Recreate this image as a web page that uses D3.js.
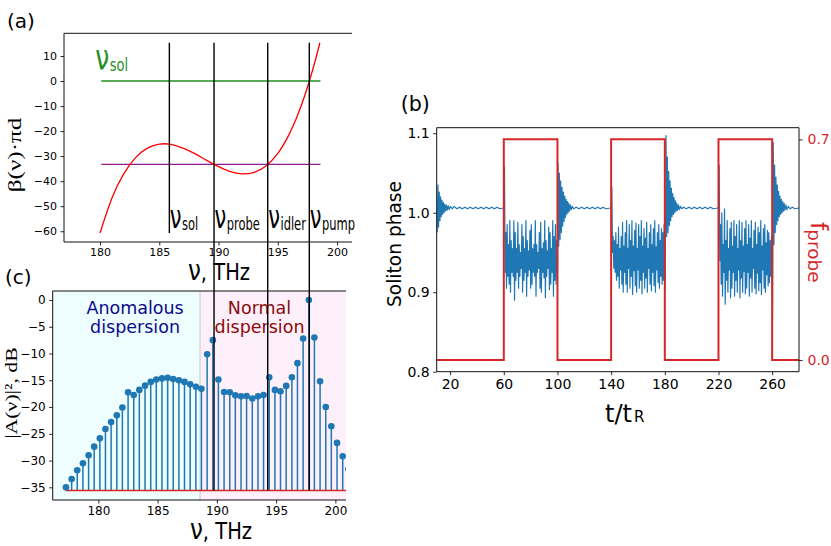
<!DOCTYPE html>
<html><head><meta charset="utf-8">
<script src="https://cdn.jsdelivr.net/npm/d3@7"></script>
<style>body{margin:0;background:#fff}svg{display:block}</style>
</head><body>
<svg id="fig" width="831" height="546"></svg>
<script>
// ---------------- DATA ----------------
// Panel (a): dispersion curve beta(nu)*pi*d
const nuA   = [180, 181, 182, 183, 184, 185, 186, 187, 188, 189, 190, 191, 192, 193, 194, 195, 196, 197, 198, 198.55];
const betaA = [-60.7, -46.8, -37.1, -30.6, -26.8, -25.2, -25.3, -26.8, -29.0, -31.7, -34.2, -36.2, -37.1, -36.5, -33.9, -28.9, -20.9, -9.6, 5.4, 15.3];
const solLevel = 0;          // green line
const phaseMatchLevel = -33.3; // purple line
const levelRange = [180.1, 198.6];
const betaTicks = [-60, -50, -40, -30, -20, -10, 0, 10];
const nuTicks = [180, 185, 190, 195, 200];
// vertical marker lines (THz)
const markNames = ["sol", "probe", "idler", "pump"];
const markNu = [185.85, 189.62, 194.15, 197.66];

// Panel (c): comb spectrum |A(nu)|^2, dB
const stemNu = [177.27,177.75,178.22,178.70,179.18,179.65,180.13,180.60,181.08,181.56,182.03,182.51,182.99,183.46,183.94,184.42,184.89,185.37,185.85,186.32,186.80,187.27,187.75,188.23,188.70,189.18,189.66,190.13,190.61,191.09,191.56,192.04,192.51,192.99,193.47,193.94,194.42,194.90,195.37,195.85,196.33,196.80,197.28,197.76,198.23,198.71,199.19,199.66,200.14,200.62,201.09,201.57,202.04];
const stemDb = [-35.0,-33.45,-31.8,-30.5,-29.0,-27.4,-25.85,-24.1,-22.8,-21.55,-20.1,-17.25,-17.75,-16.8,-16.0,-15.3,-14.85,-14.65,-14.55,-14.75,-15.0,-15.3,-15.75,-16.2,-16.6,-10.15,-7.5,-14.85,-17.2,-17.25,-17.8,-18.0,-17.95,-18.4,-18.0,-17.75,-14.45,-16.8,-17.05,-16.05,-14.45,-11.8,-7.2,0.0,-7.0,-15.2,-20.0,-23.6,-26.7,-29.2,-31.6,-33.6,-35.6];
const stemBase = -35.6;
const regionSplit = 188.58; // anomalous | normal dispersion boundary
const dbTicks = [-35, -30, -25, -20, -15, -10, -5, 0];

// Panel (b): probe switching and soliton phase
const probeT = [10, 60, 100, 140, 180, 220, 260, 280];
const probeF = [0, 0.7, 0, 0.7, 0, 0.7, 0, 0];
const tTicks = [20, 60, 100, 140, 180, 220, 260];
const phaseTicks = [0.8, 0.9, 1.0, 1.1];
const probeTicks = [0.0, 0.7];
const phaseStep = 0.5; // sampling of the probe-on segments (t_R)

const phaseOff0 = [[10.0,1.000],[10.4,0.976],[10.9,1.035],[11.4,0.982],[11.9,1.026],[12.4,0.990],[12.9,1.020],[13.4,0.995],[13.9,1.016],[14.4,0.998],[14.9,1.013],[15.4,1.000],[15.9,1.011],[16.5,1.002],[17.1,1.010],[17.8,1.003],[18.5,1.009],[19.3,1.004],[20.2,1.008],[21.5,1.005],[23,1.008],[25,1.005],[27,1.007],[29,1.005],[31,1.007],[33,1.005],[35,1.007],[37,1.005],[39,1.007],[41,1.005],[43,1.007],[45,1.005],[47,1.007],[49,1.005],[51,1.007],[53,1.005],[55,1.007],[57,1.005],[59.7,1.006]];
const phaseOn1 = [1.006,1.058,0.925,0.975,0.905,0.985,0.920,0.960,0.910,0.990,0.900,0.965,0.925,0.955,0.920,0.990,0.890,0.975,0.915,0.955,0.925,0.988,0.905,0.960,0.920,0.950,0.930,0.985,0.900,0.970,0.915,0.955,0.925,0.990,0.895,0.965,0.920,0.952,0.928,0.978,0.905,0.985,0.910,0.955,0.925,0.960,0.920,0.990,0.895,0.960,0.925,0.950,0.930,0.975,0.905,0.988,0.900,0.955,0.925,0.962,0.918,0.990,0.893,0.965,0.920,0.952,0.930,0.982,0.903,0.975,0.910,0.955,0.925,0.990,0.895,0.970,0.915,0.985,0.910,0.965,0.925];
const phaseOff1 = [[100.4,1.062],[100.9,0.958],[101.4,1.050],[101.9,0.966],[102.4,1.040],[102.9,0.975],[103.4,1.032],[103.9,0.983],[104.4,1.026],[104.9,0.989],[105.4,1.021],[105.9,0.994],[106.4,1.017],[106.9,0.998],[107.4,1.014],[107.9,1.000],[108.4,1.012],[109.0,1.002],[109.6,1.010],[110.3,1.004],[111.0,1.008],[112,1.005],[114,1.007],[116,1.005],[118,1.007],[120,1.005],[122,1.007],[124,1.005],[126,1.007],[128,1.005],[130,1.007],[132,1.005],[134,1.007],[136,1.005],[139.7,1.006]];
const phaseOn2 = [1.006,1.032,0.950,0.970,0.930,0.965,0.925,0.975,0.915,0.960,0.920,0.982,0.905,0.955,0.928,0.970,0.910,0.988,0.900,0.958,0.925,0.975,0.910,0.990,0.900,0.955,0.930,0.985,0.905,0.965,0.920,0.990,0.897,0.958,0.927,0.978,0.908,0.987,0.900,0.955,0.928,0.985,0.905,0.970,0.915,0.990,0.898,0.958,0.925,0.980,0.905,0.968,0.918,0.988,0.900,0.955,0.930,0.975,0.910,0.985,0.902,0.960,0.925,0.980,0.908,0.990,0.900,0.957,0.928,0.975,0.912,0.985,0.905,0.965,0.920,0.980,0.910,0.975,0.915,0.985,0.900];
const phaseOff2 = [[180.4,0.970],[180.9,1.097],[181.4,0.970],[181.9,1.070],[182.4,0.975],[182.9,1.052],[183.4,0.984],[183.9,1.040],[184.4,0.990],[184.9,1.031],[185.4,0.995],[185.9,1.024],[186.4,0.998],[186.9,1.019],[187.4,1.000],[187.9,1.015],[188.4,1.002],[188.9,1.012],[189.5,1.003],[190.1,1.010],[190.8,1.004],[191.6,1.008],[192.5,1.005],[194,1.007],[196,1.005],[198,1.007],[200,1.005],[202,1.007],[204,1.005],[206,1.007],[208,1.005],[210,1.007],[212,1.005],[214,1.007],[216,1.005],[219.7,1.006]];
const phaseOn3 = [1.006,1.060,0.940,0.985,0.910,1.000,0.895,0.960,0.925,1.005,0.885,0.965,0.915,0.990,0.900,0.955,0.928,0.980,0.893,0.988,0.905,0.958,0.925,0.990,0.895,0.970,0.915,0.985,0.900,0.955,0.928,0.990,0.893,0.965,0.918,0.988,0.900,0.958,0.926,0.980,0.898,0.990,0.905,0.960,0.925,0.985,0.895,0.968,0.918,0.990,0.900,0.955,0.930,0.978,0.905,0.988,0.898,0.960,0.924,0.982,0.902,0.975,0.912,0.990,0.897,0.958,0.928,0.980,0.905,0.985,0.900,0.962,0.922,0.978,0.908,0.975,0.912,0.965,0.920,0.970,0.915];
const phaseOff3 = [[260.3,0.866],[260.8,1.088],[261.3,0.960],[261.8,1.060],[262.3,0.975],[262.8,1.045],[263.3,0.985],[263.8,1.035],[264.3,0.990],[264.8,1.027],[265.3,0.995],[265.8,1.021],[266.3,0.998],[266.8,1.017],[267.3,1.000],[267.8,1.014],[268.3,1.002],[268.9,1.012],[269.5,1.003],[270.2,1.010],[271,1.004],[272,1.008],[273.3,1.005],[275,1.007],[277,1.005],[280,1.006]];

// ---------------- SETUP ----------------
const svg = d3.select('#fig');
const SANS = "'DejaVu Sans', sans-serif";
const SERIF = "'Liberation Serif', 'DejaVu Serif', serif";
const BLUE = '#1f77b4', TRED = '#d62728';
const defs = svg.append('defs');

function styleAxis(g, size, color) {
  g.select('.domain').remove();
  g.attr('font-family', SANS).attr('font-size', size);
  g.selectAll('.tick line').attr('stroke', '#111').attr('stroke-width', 0.9);
  g.selectAll('.tick text').attr('fill', color || '#000');
}
function spine(g, x1, y1, x2, y2) {
  g.append('line').attr('x1', x1).attr('y1', y1).attr('x2', x2).attr('y2', y2)
    .attr('stroke', '#111').attr('stroke-width', 1);
}

// ---------------- PANEL (a) ----------------
const xA = d3.scaleLinear().domain([176.96, 203]).range([64, 372.6]);
const yA = d3.scaleLinear().domain([-64.3, 19.07]).range([242, 33.3]);
const clipRightA = 352;
defs.append('clipPath').attr('id', 'clipA').append('rect')
  .attr('x', xA.range()[0]).attr('y', yA.range()[1])
  .attr('width', clipRightA - xA.range()[0]).attr('height', yA.range()[0] - yA.range()[1]);
const gA = svg.append('g');
const pA = gA.append('g').attr('clip-path', 'url(#clipA)');

pA.append('line').attr('x1', xA(levelRange[0])).attr('x2', xA(levelRange[1]))
  .attr('y1', yA(solLevel)).attr('y2', yA(solLevel)).attr('stroke', '#1f8f1f').attr('stroke-width', 1.5);
pA.append('line').attr('x1', xA(levelRange[0])).attr('x2', xA(levelRange[1]))
  .attr('y1', yA(phaseMatchLevel)).attr('y2', yA(phaseMatchLevel)).attr('stroke', '#8e1a8e').attr('stroke-width', 1.4);
pA.append('path').datum(nuA.map((n, i) => [n, betaA[i]]))
  .attr('d', d3.line().x(d => xA(d[0])).y(d => yA(d[1])).curve(d3.curveNatural))
  .attr('fill', 'none').attr('stroke', '#ff0000').attr('stroke-width', 1.3);

spine(gA, xA.range()[0], yA.range()[1], xA.range()[0], yA.range()[0]);
spine(gA, xA.range()[0], yA.range()[1], clipRightA, yA.range()[1]);
spine(gA, xA.range()[0], yA.range()[0], clipRightA, yA.range()[0]);
styleAxis(gA.append('g').attr('transform', `translate(${xA.range()[0]},0)`)
  .call(d3.axisLeft(yA).tickValues(betaTicks).tickSize(3.5).tickPadding(3.5)), 11);
styleAxis(gA.append('g').attr('transform', `translate(0,${yA.range()[0]})`)
  .call(d3.axisBottom(xA).tickValues(nuTicks).tickSize(3.5).tickPadding(2.5)), 11);

// ---------------- PANEL (c) ----------------
const xC = d3.scaleLinear().domain([176.15, 203.2]).range([52.7, 373.3]);
const yC = d3.scaleLinear().domain([-37.37, 1.68]).range([500, 291]);
const clipRightC = 346;
defs.append('clipPath').attr('id', 'clipC').append('rect')
  .attr('x', xC.range()[0]).attr('y', yC.range()[1])
  .attr('width', clipRightC - xC.range()[0]).attr('height', yC.range()[0] - yC.range()[1]);
const gC = svg.append('g');
const pC = gC.append('g').attr('clip-path', 'url(#clipC)');
pC.append('rect').attr('x', xC.range()[0]).attr('y', yC.range()[1])
  .attr('width', xC(regionSplit) - xC.range()[0]).attr('height', yC.range()[0] - yC.range()[1]).attr('fill', '#eefdfd');
pC.append('rect').attr('x', xC(regionSplit)).attr('y', yC.range()[1])
  .attr('width', clipRightC - xC(regionSplit)).attr('height', yC.range()[0] - yC.range()[1]).attr('fill', '#fdf0fb');
pC.append('line').attr('x1', xC(regionSplit)).attr('x2', xC(regionSplit))
  .attr('y1', yC.range()[1]).attr('y2', yC.range()[0]).attr('stroke', '#c9c9c9').attr('stroke-width', 1);

const stems = stemNu.map((n, i) => [n, stemDb[i]]);
pC.selectAll('line.stem').data(stems).enter().append('line').attr('class', 'stem')
  .attr('x1', d => xC(d[0])).attr('x2', d => xC(d[0]))
  .attr('y1', yC(stemBase)).attr('y2', d => yC(d[1]))
  .attr('stroke', BLUE).attr('stroke-width', 1.5);
pC.append('line').attr('x1', xC(stemNu[0])).attr('x2', xC(stemNu[stemNu.length - 1]))
  .attr('y1', yC(stemBase)).attr('y2', yC(stemBase)).attr('stroke', TRED).attr('stroke-width', 1.6);
pC.selectAll('circle').data(stems).enter().append('circle')
  .attr('cx', d => xC(d[0])).attr('cy', d => yC(d[1])).attr('r', 3.3).attr('fill', BLUE);

spine(gC, xC.range()[0], yC.range()[1], xC.range()[0], yC.range()[0]);
spine(gC, xC.range()[0], yC.range()[1], clipRightC, yC.range()[1]);
spine(gC, xC.range()[0], yC.range()[0], clipRightC, yC.range()[0]);
styleAxis(gC.append('g').attr('transform', `translate(${xC.range()[0]},0)`)
  .call(d3.axisLeft(yC).tickValues(dbTicks).tickSize(3.5).tickPadding(3.5)), 12);
styleAxis(gC.append('g').attr('transform', `translate(0,${yC.range()[0]})`)
  .call(d3.axisBottom(xC).tickValues(nuTicks).tickSize(3.5).tickPadding(3)), 12);

function twoLine(g, x, y1, y2, l1, l2, color) {
  const t = g.append('text').attr('font-family', SANS).attr('font-size', 17.5).attr('fill', color).attr('text-anchor', 'middle');
  t.append('tspan').attr('x', x).attr('y', y1).text(l1);
  t.append('tspan').attr('x', x).attr('y', y2).text(l2);
}
twoLine(gC, xC(183.1), yC(-2.7), yC(-6.2), 'Anomalous', 'dispersion', '#0b0b8c');
twoLine(gC, xC(193.6), yC(-2.7), yC(-6.2), 'Normal', 'dispersion', '#8b0a0a');

// ---------------- PANEL (b) ----------------
const xB = d3.scaleLinear().domain([10, 280]).range([436.7, 799]);
const yB = d3.scaleLinear().domain([0.8, 1.107]).range([371.7, 127.7]);
const yB2 = d3.scaleLinear().domain([-0.037, 0.737]).range([371.7, 127.7]);
defs.append('clipPath').attr('id', 'clipB').append('rect')
  .attr('x', xB.range()[0]).attr('y', yB.range()[1])
  .attr('width', xB.range()[1] - xB.range()[0]).attr('height', yB.range()[0] - yB.range()[1]);
const gB = svg.append('g');
const pB = gB.append('g').attr('clip-path', 'url(#clipB)');

function seg(t0, vals) { return vals.map((v, i) => [t0 + i * phaseStep, v]); }
const phaseSeries = [].concat(phaseOff0, seg(probeT[1], phaseOn1), phaseOff1,
  seg(probeT[3], phaseOn2), phaseOff2, seg(probeT[5], phaseOn3), phaseOff3);
pB.append('path').datum(phaseSeries)
  .attr('d', d3.line().x(d => xB(d[0])).y(d => yB(d[1])))
  .attr('fill', 'none').attr('stroke', BLUE).attr('stroke-width', 1.2).attr('stroke-linejoin', 'round');
pB.append('path').datum(probeT.map((t, i) => [t, probeF[i]]))
  .attr('d', d3.line().x(d => xB(d[0])).y(d => yB2(d[1])).curve(d3.curveStepAfter))
  .attr('fill', 'none').attr('stroke', TRED).attr('stroke-width', 2);

spine(gB, xB.range()[0], yB.range()[1], xB.range()[1], yB.range()[1]);
spine(gB, xB.range()[0], yB.range()[0], xB.range()[1], yB.range()[0]);
spine(gB, xB.range()[0], yB.range()[1], xB.range()[0], yB.range()[0]);
spine(gB, xB.range()[1], yB.range()[1], xB.range()[1], yB.range()[0]);
styleAxis(gB.append('g').attr('transform', `translate(${xB.range()[0]},0)`)
  .call(d3.axisLeft(yB).tickValues(phaseTicks).tickFormat(d3.format('.1f')).tickSize(3.5).tickPadding(3.5)), 14);
styleAxis(gB.append('g').attr('transform', `translate(0,${yB.range()[0]})`)
  .call(d3.axisBottom(xB).tickValues(tTicks).tickSize(3.5).tickPadding(3.5)), 14);
styleAxis(gB.append('g').attr('transform', `translate(${xB.range()[1]},0)`)
  .call(d3.axisRight(yB2).tickValues(probeTicks).tickFormat(d3.format('.1f')).tickSize(3.5).tickPadding(5)), 14, TRED);

// ---------------- LABELS ----------------
function lbl(x, y, txt, size) {
  return svg.append('text').attr('x', x).attr('y', y).attr('font-family', SANS)
    .attr('font-size', size).attr('fill', '#000').text(txt);
}
lbl(7, 28.2, '(a)', 20);
lbl(5, 283.5, '(c)', 20);
lbl(400.7, 110.7, '(b)', 20.6);

// nu-with-subscript labels (tall mathtext look)
function nuLabel(x, y, sub, size, subSize, color, sy) {
  const g = svg.append('g').attr('transform', `translate(${x},${y}) scale(1,${sy})`);
  const t = g.append('text').attr('font-family', SANS).attr('fill', color);
  t.append('tspan').attr('font-size', size).text('ν');
  t.append('tspan').attr('font-size', subSize).attr('dx', 0.5).attr('dy', 1).text(sub);
}
nuLabel(xA(179.6), yA(4.4), 'sol', 25, 13, '#1f8f1f', 1.4);
markNames.forEach((nm, i) => nuLabel(xA(markNu[i]) + 0.5, yA(-58.8), nm, 21, 11.5, '#000', 1.5));

function axisNu(x, y) {
  const g = svg.append('g').attr('transform', `translate(${x},${y}) scale(1,1.22)`);
  const t = g.append('text').attr('font-family', SANS).attr('fill', '#000');
  t.append('tspan').attr('font-size', 23).text('ν');
  t.append('tspan').attr('font-size', 19.5).text(', THz');
}
axisNu(188, 280);
axisNu(190, 539);

// y labels of (a) and (c)
svg.append('g').attr('transform', 'translate(15,155) rotate(-90) scale(1.4,1)')
  .append('text').attr('font-family', SERIF).attr('font-size', 18).attr('text-anchor', 'middle')
  .attr('dominant-baseline', 'central').text('β(ν)·πd');
svg.append('g').attr('transform', 'translate(11.5,393) rotate(-90) scale(1.28,1)')
  .append('text').attr('font-family', SERIF).attr('font-size', 17).attr('text-anchor', 'middle')
  .attr('dominant-baseline', 'central').text('|A(ν)|², dB');

// panel (b) labels
svg.append('text').attr('transform', 'translate(401,244) rotate(-90)').attr('font-family', SANS)
  .attr('font-size', 18.6).attr('text-anchor', 'middle').text('Soliton phase');
const tl = svg.append('text').attr('x', 605).attr('y', 422).attr('font-family', SANS).attr('fill', '#000');
tl.append('tspan').attr('font-size', 24).text('t/t');
tl.append('tspan').attr('font-size', 15).attr('dx', 2).text('R');
const fl = svg.append('text').attr('transform', 'translate(810.5,222) rotate(90)').attr('font-family', SANS).attr('fill', TRED);
fl.append('tspan').attr('font-size', 23.5).text('f');
fl.append('tspan').attr('font-size', 18.5).attr('dx', -1).attr('dy', 2.5).text('probe');

// ---------------- OVERLAY: vertical marker lines ----------------
const topBeta = d3.max(betaA), botBeta = d3.min(betaA);
markNu.forEach((n, i) => {
  svg.append('line').attr('x1', xA(n)).attr('x2', xA(n))
    .attr('y1', yA(topBeta)).attr('y2', i === 0 ? yA(botBeta) : yC(stemBase))
    .attr('stroke', '#000').attr('stroke-width', 1.4);
});
</script>
</body></html>
